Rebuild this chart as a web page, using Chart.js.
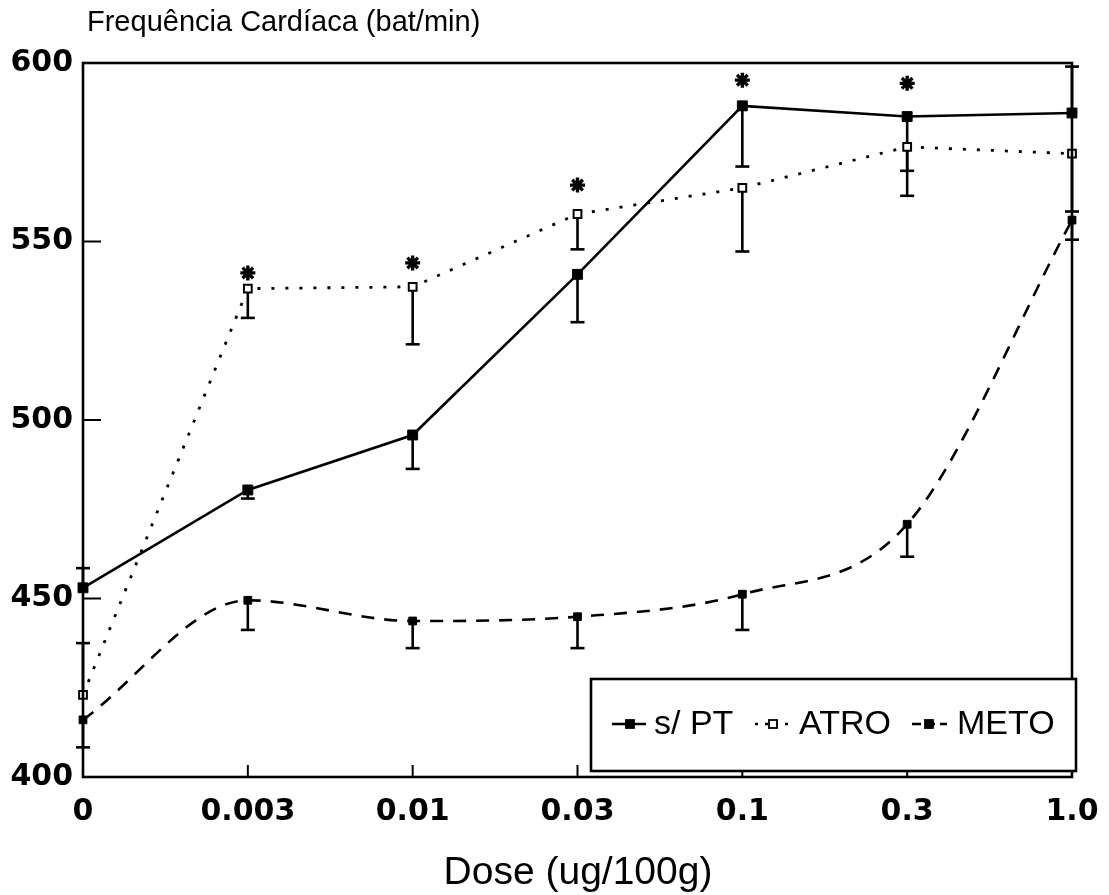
<!DOCTYPE html>
<html>
<head>
<meta charset="utf-8">
<script src="https://cdn.jsdelivr.net/npm/chart.js@4.4.1/dist/chart.umd.min.js"></script>
<style>
  html, body { margin: 0; padding: 0; background: #fff; }
  #wrap { width: 1109px; height: 895px; position: relative; }
</style>
</head>
<body>
<div id="wrap"><canvas id="c" width="1109" height="895"></canvas></div>
<script>
// ---- data ----
const doses = ['0', '0.003', '0.01', '0.03', '0.1', '0.3', '1.0'];
const sptValues  = [453, 480.4, 495.8, 540.8, 588, 585, 586];
const sptErrEnd  = [458.5, 478, 486.3, 527.4, 571, 569.8, 599];
const atroValues = [423, 536.8, 537.3, 557.7, 565, 576.5, 574.6];
const atroErrEnd = [437.5, 528.6, 521.2, 547.8, 547.2, 562.8, 558.4];
const metoValues = [416, 449.5, 443.7, 444.9, 451.2, 470.8, 556];
const metoErrEnd = [408.3, 441.2, 436.1, 436.1, 441.2, 461.7, 550.5];
const starMarks  = [null, 541.2, 544, 565.8, 595.2, 594.3, null];
const yTickValues = [400, 450, 500, 550, 600];
const seriesNames = ['s/ PT', 'ATRO', 'METO'];
const yTitle = 'Frequência Cardíaca (bat/min)';
const xTitle = 'Dose (ug/100g)';

const INK = '#000';

const decorPlugin = {
  id: 'decor',
  beforeDatasetsDraw(chart) {
    const ctx = chart.ctx;
    const xs = chart.scales.x, ys = chart.scales.y;
    const groups = [[sptValues, sptErrEnd], [atroValues, atroErrEnd], [metoValues, metoErrEnd]];
    ctx.save();
    ctx.strokeStyle = INK;
    ctx.lineWidth = 2.6;
    groups.forEach(([vals, ends]) => {
      vals.forEach((v, i) => {
        const x = xs.getPixelForValue(i);
        const y1 = ys.getPixelForValue(v);
        const y2 = ys.getPixelForValue(ends[i]);
        ctx.beginPath();
        ctx.moveTo(x, y1);
        ctx.lineTo(x, y2);
        ctx.stroke();
        ctx.beginPath();
        ctx.moveTo(x - 7, y2);
        ctx.lineTo(x + 7, y2);
        ctx.stroke();
      });
    });
    ctx.restore();
  },
  afterDraw(chart) {
    const ctx = chart.ctx;
    const a = chart.chartArea;
    const xs = chart.scales.x, ys = chart.scales.y;
    ctx.save();
    ctx.strokeStyle = INK;
    ctx.fillStyle = INK;
    ctx.lineWidth = 2.6;
    // frame
    ctx.strokeRect(a.left, a.top, a.right - a.left, a.bottom - a.top);
    // inner ticks
    ctx.lineWidth = 2;
    yTickValues.forEach(v => {
      if (v === 400 || v === 600) return;
      const y = ys.getPixelForValue(v);
      ctx.beginPath(); ctx.moveTo(a.left, y); ctx.lineTo(a.left + 18, y); ctx.stroke();
    });
    doses.forEach((d, i) => {
      if (i === 0 || i === doses.length - 1) return;
      const x = xs.getPixelForValue(i);
      ctx.beginPath(); ctx.moveTo(x, a.bottom); ctx.lineTo(x, a.bottom - 12); ctx.stroke();
    });
    // titles
    ctx.font = '29px "Liberation Sans", Arial, sans-serif';
    ctx.textAlign = 'left';
    ctx.textBaseline = 'alphabetic';
    ctx.fillText(yTitle, a.left + 4, 31);
    ctx.font = '39px "Liberation Sans", Arial, sans-serif';
    ctx.textAlign = 'center';
    ctx.fillText(xTitle, 578, 884);
    // legend box
    const bx = 591, by = 679, bw = 485, bh = 92;
    ctx.fillStyle = '#fff';
    ctx.fillRect(bx, by, bw, bh);
    ctx.fillStyle = INK;
    ctx.lineWidth = 2.6;
    ctx.strokeRect(bx, by, bw, bh);
    const ly = 724;
    const items = [
      { x0: 612, x1: 646, mx: 630, dash: [], fill: INK, tx: 654 },
      { x0: 755, x1: 795, mx: 773, dash: [3, 7], fill: '#fff', tx: 799 },
      { x0: 912, x1: 947, mx: 929, dash: [9, 5], fill: INK, tx: 957 }
    ];
    ctx.font = '34px "Liberation Sans", Arial, sans-serif';
    ctx.textAlign = 'left';
    ctx.textBaseline = 'middle';
    items.forEach((it, k) => {
      ctx.setLineDash(it.dash);
      ctx.lineWidth = 2.4;
      ctx.beginPath(); ctx.moveTo(it.x0, ly); ctx.lineTo(it.x1, ly); ctx.stroke();
      ctx.setLineDash([]);
      ctx.fillStyle = it.fill;
      ctx.lineWidth = 1.8;
      ctx.fillRect(it.mx - 4, ly - 4, 8, 8);
      ctx.strokeRect(it.mx - 4, ly - 4, 8, 8);
      ctx.fillStyle = INK;
      ctx.fillText(seriesNames[k], it.tx, ly + 1);
    });
    ctx.restore();
  }
};

const tickFont = { family: '"DejaVu Sans", sans-serif', size: 30, weight: 'bold' };

new Chart(document.getElementById('c'), {
  type: 'line',
  data: {
    labels: doses,
    datasets: [
      {
        label: seriesNames[0], data: sptValues,
        borderColor: INK, backgroundColor: INK, borderWidth: 2.6,
        pointStyle: 'rect', pointRadius: 7, pointBorderWidth: 1,
        pointBackgroundColor: INK, tension: 0, clip: false
      },
      {
        label: seriesNames[1], data: atroValues,
        borderColor: INK, backgroundColor: '#fff', borderWidth: 2.8,
        borderDash: [3, 11],
        pointStyle: 'rect', pointRadius: 5.5, pointBorderWidth: 2,
        pointBackgroundColor: '#fff', tension: 0, clip: false
      },
      {
        label: seriesNames[2], data: metoValues,
        borderColor: INK, backgroundColor: INK, borderWidth: 2.6,
        borderDash: [13, 10],
        pointStyle: 'rect', pointRadius: 5.5, pointBorderWidth: 1,
        pointBackgroundColor: INK, cubicInterpolationMode: 'monotone', clip: false
      },
      {
        label: 'sig', data: starMarks, showLine: false,
        pointStyle: 'star', pointRadius: 7.5, pointBorderWidth: 3.4,
        borderColor: INK, backgroundColor: INK, clip: false
      }
    ]
  },
  options: {
    responsive: false,
    animation: false,
    events: [],
    layout: { padding: { left: 0, top: 63, right: 37, bottom: 0 } },
    plugins: { legend: { display: false }, title: { display: false }, tooltip: { enabled: false } },
    scales: {
      x: {
        type: 'category',
        offset: false,
        grid: { display: false },
        border: { display: false },
        ticks: { color: INK, font: tickFont, padding: 9, maxRotation: 0, autoSkip: false },
        afterFit(s) { s.height = 118; }
      },
      y: {
        type: 'linear',
        min: 400, max: 600,
        grid: { display: false },
        border: { display: false },
        afterBuildTicks(s) { s.ticks = yTickValues.map(v => ({ value: v })); },
        ticks: { color: INK, font: tickFont, padding: 2 },
        afterFit(s) { s.width = 83; }
      }
    }
  },
  plugins: [decorPlugin]
});
</script>
</body>
</html>
